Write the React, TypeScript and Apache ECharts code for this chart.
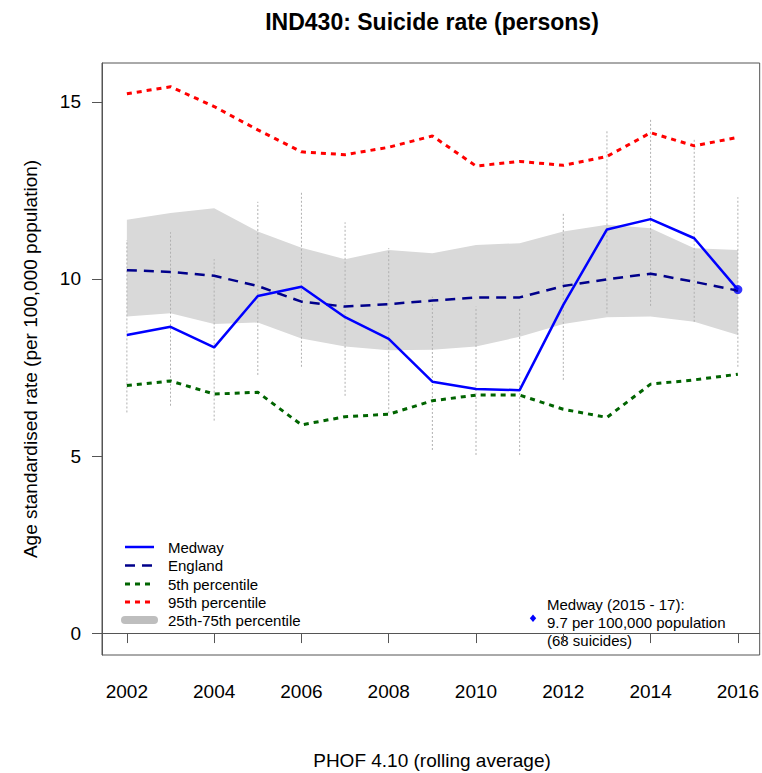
import { useEffect, useRef } from "react";
import * as echarts from "echarts";

// Rolling three-year periods, labelled by their final year
const years = [2002, 2003, 2004, 2005, 2006, 2007, 2008, 2009, 2010, 2011, 2012, 2013, 2014, 2015, 2016];

// Age standardised suicide rate per 100,000 population
const medway = [8.42, 8.65, 8.07, 9.52, 9.78, 8.92, 8.31, 7.1, 6.89, 6.86, 9.27, 11.4, 11.69, 11.15, 9.7];
const medwayLower = [6.23, 6.42, 6.0, 7.29, 7.52, 6.7, 6.21, 5.17, 5.03, 5.03, 7.15, 9.03, 9.24, 8.79, 7.52];
const medwayUpper = [11.1, 11.32, 10.56, 12.18, 12.49, 11.6, 10.87, 9.5, 9.22, 9.17, 11.88, 14.21, 14.54, 13.97, 12.31];
const england = [10.25, 10.2, 10.09, 9.8, 9.36, 9.22, 9.29, 9.39, 9.48, 9.48, 9.8, 9.99, 10.15, 9.92, 9.67];
const pct5 = [6.99, 7.12, 6.75, 6.8, 5.88, 6.11, 6.18, 6.56, 6.72, 6.72, 6.32, 6.09, 7.03, 7.15, 7.31];
const pct95 = [15.23, 15.43, 14.87, 14.21, 13.59, 13.51, 13.72, 14.04, 13.19, 13.32, 13.21, 13.46, 14.13, 13.76, 14.0];
const pct25 = [8.94, 9.03, 8.73, 8.77, 8.32, 8.09, 7.99, 8.0, 8.09, 8.37, 8.73, 8.92, 8.94, 8.79, 8.42];
const pct75 = [11.67, 11.86, 12.0, 11.34, 10.88, 10.56, 10.82, 10.73, 10.96, 11.01, 11.34, 11.53, 11.43, 10.87, 10.82];

const xTicks = [2002, 2004, 2006, 2008, 2010, 2012, 2014, 2016];
const yTicks = [0, 5, 10, 15];

const latestSuicides = 68;
const latestPeriod = "2015 - 17";

const FONT = '"Liberation Sans", Arial, Helvetica, sans-serif';

const pairs = (vals: number[]) => years.map((y, i) => [y, vals[i]]);

function txt(x: number, y: number, text: string, size: number, opts: any = {}) {
  return {
    type: "text",
    x,
    y,
    rotation: opts.rotation || 0,
    silent: true,
    style: {
      text,
      fill: "#000",
      fontSize: size,
      fontFamily: FONT,
      fontWeight: opts.bold ? "bold" : "normal",
      align: opts.align || "left",
      textAlign: opts.align || "left",
      verticalAlign: "middle",
      textVerticalAlign: "middle",
    },
  };
}

function legendLine(y: number, stroke: string, width: number, dash?: number[], cap = "butt") {
  return {
    type: "line",
    silent: true,
    shape: { x1: 125, y1: y, x2: 154, y2: y },
    style: { stroke, lineWidth: width, lineDash: dash || null, lineCap: cap },
  };
}

export default function App() {
  const ref = useRef<HTMLDivElement>(null);

  useEffect(() => {
    if (!ref.current) return;
    const chart = echarts.init(ref.current, undefined, { renderer: "svg" });

    const latest = medway[medway.length - 1];
    const rows = [547, 565.5, 584, 602, 620];

    chart.setOption({
      animation: false,
      backgroundColor: "#fff",
      grid: {
        left: 102,
        right: 1,
        top: 63,
        bottom: 118,
        show: true,
        borderColor: "#555",
        borderWidth: 1,
      },
      xAxis: {
        type: "value",
        min: 2001.43,
        max: 2016.5,
        axisLine: { show: true, lineStyle: { color: "#555", width: 1 } },
        axisTick: {
          show: true,
          length: 10,
          customValues: xTicks,
          lineStyle: { color: "#555", width: 1 },
        },
        axisLabel: {
          customValues: xTicks,
          fontSize: 19,
          fontFamily: FONT,
          color: "#000",
          margin: 27,
          formatter: (v: number) => String(v),
        },
        splitLine: { show: false },
      },
      yAxis: {
        type: "value",
        min: -0.62,
        max: 16.1,
        axisLine: { show: true, lineStyle: { color: "#555", width: 1 } },
        axisTick: {
          show: true,
          length: 10,
          customValues: yTicks,
          lineStyle: { color: "#555", width: 1 },
        },
        axisLabel: {
          customValues: yTicks,
          fontSize: 19,
          fontFamily: FONT,
          color: "#000",
          margin: 21,
          formatter: (v: number) => String(v),
        },
        splitLine: { show: false },
      },
      series: [
        {
          // interquartile band across local authorities
          type: "custom",
          silent: true,
          data: [[years[0], pct25[0]]],
          renderItem: (_p: any, api: any) => {
            const top = years.map((y, i) => api.coord([y, pct75[i]]));
            const bottom = years.map((y, i) => api.coord([y, pct25[i]])).reverse();
            return {
              type: "polygon",
              shape: { points: top.concat(bottom) },
              style: { fill: "#d9d9d9" },
            };
          },
        },
        {
          // Medway confidence intervals
          type: "custom",
          silent: true,
          data: years.map((y, i) => [y, medwayLower[i], medwayUpper[i]]),
          encode: { x: 0, y: [1, 2] },
          renderItem: (_p: any, api: any) => {
            const a = api.coord([api.value(0), api.value(1)]);
            const b = api.coord([api.value(0), api.value(2)]);
            return {
              type: "line",
              shape: { x1: a[0], y1: a[1], x2: b[0], y2: b[1] },
              style: { stroke: "#b0b0b0", lineWidth: 1, lineDash: [2, 2] },
            };
          },
        },
        {
          name: "5th percentile",
          type: "line",
          silent: true,
          symbol: "none",
          data: pairs(pct5),
          lineStyle: { color: "#006400", width: 3, type: [5, 5], cap: "butt" },
        },
        {
          name: "95th percentile",
          type: "line",
          silent: true,
          symbol: "none",
          data: pairs(pct95),
          lineStyle: { color: "#ff0000", width: 3, type: [5, 5], cap: "butt" },
        },
        {
          name: "England",
          type: "line",
          silent: true,
          symbol: "none",
          data: pairs(england),
          lineStyle: { color: "#00008b", width: 2.5, type: [10, 7] },
        },
        {
          name: "Medway",
          type: "line",
          silent: true,
          symbol: "none",
          data: pairs(medway),
          lineStyle: { color: "#0000ff", width: 2.5 },
        },
        {
          name: "Medway latest",
          type: "scatter",
          silent: true,
          symbol: "circle",
          symbolSize: 9,
          data: [[years[years.length - 1], latest]],
          itemStyle: { color: "#0000ff" },
        },
      ],
      graphic: [
        txt(432, 22, "IND430: Suicide rate (persons)", 23, { bold: true, align: "center" }),
        txt(30, 359, "Age standardised rate (per 100,000 population)", 19, {
          align: "center",
          rotation: Math.PI / 2,
        }),
        txt(432, 760, "PHOF 4.10 (rolling average)", 19, { align: "center" }),

        legendLine(rows[0], "#0000ff", 2.5),
        legendLine(rows[1], "#00008b", 2.5, [10, 7]),
        legendLine(rows[2], "#006400", 3, [5, 5]),
        legendLine(rows[3], "#ff0000", 3, [5, 5]),
        legendLine(rows[4], "#bebebe", 8, undefined, "round"),
        txt(168, rows[0], "Medway", 15),
        txt(168, rows[1], "England", 15),
        txt(168, rows[2], "5th percentile", 15),
        txt(168, rows[3], "95th percentile", 15),
        txt(168, rows[4], "25th-75th percentile", 15),

        {
          type: "polygon",
          silent: true,
          shape: {
            points: [
              [533, 614.5],
              [536.2, 618.2],
              [533, 621.9],
              [529.8, 618.2],
            ],
          },
          style: { fill: "#0000ff" },
        },
        txt(547, 604, `Medway (${latestPeriod}):`, 15),
        txt(547, 622.5, `${latest.toFixed(1)} per 100,000 population`, 15),
        txt(547, 640.5, `(${latestSuicides} suicides)`, 15),
      ],
    });

    return () => chart.dispose();
  }, []);

  return (
    <div
      ref={ref}
      style={{ position: "fixed", left: 0, top: 0, width: 762, height: 773, background: "#fff" }}
    />
  );
}
